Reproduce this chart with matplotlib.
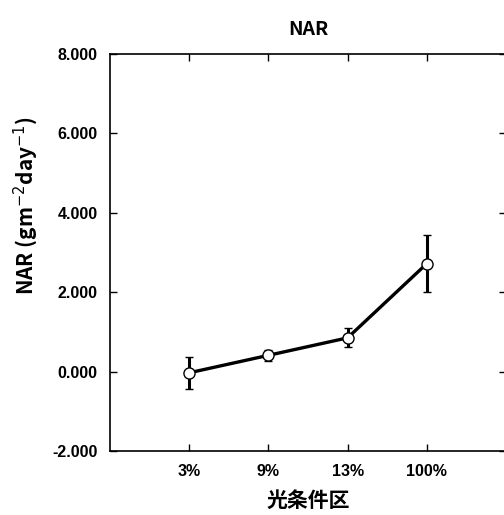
import matplotlib.pyplot as plt
import numpy as np

categories = ['3%', '9%', '13%', '100%']
nar_mean = [-0.03, 0.41, 0.85, 2.72]
nar_err = [0.41, 0.14, 0.24, 0.71]
yticks = [-2, 0, 2, 4, 6, 8]

cjk = ['Noto Sans CJK JP', 'DejaVu Sans']

fig = plt.figure(figsize=(5.04, 5.15), dpi=100)
ax = fig.add_axes([110 / 504, 1 - 451 / 515, 396 / 504, 397 / 515])

x = np.arange(1, len(categories) + 1)
ax.errorbar(x, nar_mean, yerr=nar_err, color='black', lw=2.4,
            elinewidth=2.2, capsize=3, capthick=2.2,
            marker='o', ms=8, mfc='white', mec='black', mew=1.0, zorder=3)

ax.set_xlim(0, 5)
ax.set_ylim(-2, 8)
ax.set_xticks(x)
ax.set_xticklabels(categories)
ax.set_yticks(yticks)
ax.set_yticklabels([f'{v:.3f}' for v in yticks])

ax.tick_params(direction='in', length=5, width=1, top=True, right=True,
               labelsize=11.5, pad=9)
for lab in ax.get_xticklabels() + ax.get_yticklabels():
    lab.set_family(['Liberation Sans', 'DejaVu Sans'])
    lab.set_fontweight('bold')
for sp in ax.spines.values():
    sp.set_linewidth(1.2)

ax.set_title('NAR', family=cjk, fontweight='bold', fontsize=14, pad=14)
ax.set_xlabel('光条件区', family=cjk, fontweight='bold', fontsize=15, labelpad=8)
ax.set_ylabel('NAR (gm$^{-2}$day$^{-1}$)', family=cjk, fontweight='bold',
              fontsize=15)
ax.yaxis.set_label_coords(-0.177, 0.617)

fig.savefig('out.png', dpi=100)
